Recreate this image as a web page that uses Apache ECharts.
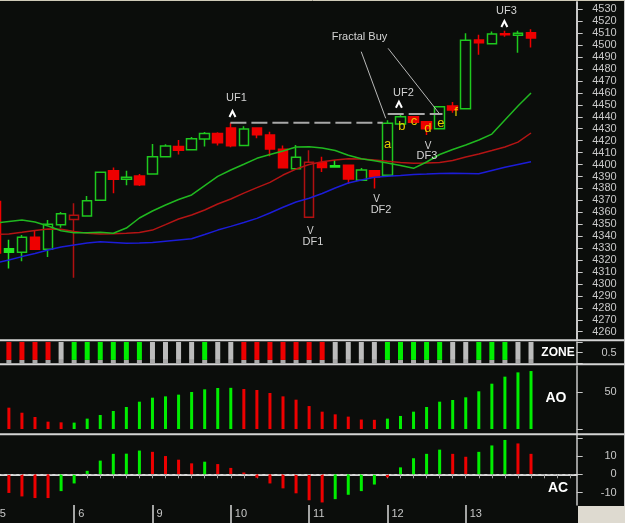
<!DOCTYPE html>
<html>
<head>
<meta charset="utf-8">
<script src="https://cdn.jsdelivr.net/npm/echarts@6/dist/echarts.min.js"></script>
<style>
html,body{margin:0;padding:0;background:#0b0d0b;}
#main{width:625px;height:523px;}
</style>
</head>
<body>
<div id="main"></div>
<script>
// bars 0..41 (bar 0 is cut off at the left edge)
var opens  = [4369,4329.5,4326.5,4339,4329,4349.6,4354,4356.9,4370,4394.8,4387.6,4390.4,4392,4406.5,4415.2,4412.4,4421.3,4426,4430.6,4416,4430.6,4424.7,4412.7,4396.5,4355.8,4401.5,4399,4399.3,4386.8,4394.8,4391,4434,4440,4435.8,4430,4449,4446.7,4504.3,4501.2,4509.5,4508.2,4510.4];
var closes = [4326,4326.5,4339,4329,4350,4358.8,4357.5,4369.7,4393.5,4387.6,4389.3,4383.1,4406.5,4415.5,4412,4421.6,4426,4418.3,4415.7,4429.7,4425,4413,4397.3,4406,4402,4397.5,4398,4387.9,4395.4,4389.5,4434.5,4440,4435.3,4430,4448.4,4445.6,4504,4502,4509.3,4508.7,4510,4506];
var highs  = [4372,4337,4341,4345,4353.5,4360.2,4367.5,4373.6,4394,4397.6,4394.8,4392,4417.2,4417,4420.5,4423,4427.2,4427,4435,4432,4430.6,4427.5,4416,4416.3,4412,4406.5,4403.8,4399.3,4397,4394.8,4437,4442,4440,4435.8,4448.4,4452.3,4509.9,4508.7,4511.5,4512,4512,4513.2];
var lows   = [4320,4313,4319,4329,4322.5,4347,4305.2,4356.9,4370,4375.9,4382.6,4382,4392,4406.5,4408.5,4412.4,4415,4416,4414.4,4416,4422,4407,4397.3,4396.5,4355.8,4393.7,4397.3,4384,4386.8,4380,4391,4434,4435.3,4424.7,4430,4443.4,4446.7,4492,4501.2,4506.9,4493.6,4498];

// alligator lines
var lips  = [4351.0,4352.3,4353.5,4351.8,4348.5,4344.6,4342.8,4342.8,4343.2,4342.4,4346.8,4355.2,4361.1,4366.1,4370.7,4374.5,4382.4,4390.1,4395.4,4400.2,4405.2,4408.4,4411.3,4414.7,4414.9,4413.8,4411.7,4407.8,4404.9,4403.1,4401.3,4399.1,4396.8,4402.1,4408.4,4412.6,4416.3,4420.5,4425.5,4437.3,4449.0,4459.9];
var teeth = [4341.4,4341.8,4343.2,4344.7,4346.0,4345.8,4343.9,4342.4,4341.8,4342.1,4342.5,4343.1,4345.1,4349.7,4354.4,4357.7,4361.9,4366.9,4371.1,4376.1,4380.7,4385.1,4391.2,4396.2,4400.0,4402.3,4403.8,4404.9,4404.6,4403.8,4402.7,4401.8,4401.0,4401.3,4401.7,4403.4,4406.3,4408.8,4411.7,4414.7,4418.8,4426.4];
var jaw   = [4317.5,4320.0,4322.9,4325.5,4328.4,4330.9,4332.6,4334.3,4335.3,4334.7,4334.0,4334.3,4334.8,4335.8,4336.8,4337.8,4341.4,4345.1,4348.2,4351.5,4354.9,4359.4,4364.2,4368.6,4371.7,4375.7,4380.3,4384.5,4387.0,4389.3,4390.2,4390.8,4391.6,4392.0,4392.5,4392.6,4392.5,4392.2,4395.0,4397.7,4400.0,4402.3];

// indicators, bars 1..41
var zoneStates = ['r','r','r','r','w','g','g','g','g','g','g','w','w','w','w','g','w','w','r','r','r','r','r','r','r','w','w','w','w','g','g','g','g','g','w','w','g','g','g','w','w'];
var aoValues = [28.8,22,16.2,9.9,9,8.6,14,18.9,24.3,29.7,36.9,42.3,44.1,46.4,50,53.6,55.4,55.6,54,52.7,48.6,44.1,39.6,31,23.4,19.8,16.7,12.8,12.4,14,17.6,23.4,29.7,36.9,39.2,42.8,50.9,61.2,70.7,76.5,78.3];
var aoStates = ['r','r','r','r','r','g','g','g','g','g','g','g','g','g','g','g','g','g','r','r','r','r','r','r','r','r','r','r','r','g','g','g','g','g','g','g','g','g','g','g','g'];
var acValues = [-10.2,-12.1,-13,-13,-9.2,-5,1.9,7.5,11.2,11.3,13,12.3,10,8,6,6.9,5.6,3.5,1,-1.9,-5,-7.7,-10.4,-14.2,-15.4,-13.6,-11.2,-9.2,-5.6,-1.7,3.8,8.8,11.2,13.5,11.2,9.6,12.3,15.8,18.8,16.9,11.2];
var acStates = ['r','r','r','r','g','g','g','g','g','g','g','r','r','r','r','g','r','r','r','r','r','r','r','r','r','g','g','g','g','r','g','g','g','g','r','r','g','g','g','r','r'];

// axis
var slotCount = 45;
var dayStarts = [0,6,12,18,24,30,36];
var dayNames = ['5','6','9','10','11','12','13'];
var priceTicks = [];
for (var p = 4260; p <= 4530; p += 10) priceTicks.push(p);

// annotations (bar position, price)
var fractalTexts = [
    {text:'UF1', bar:18.43, price:4455.7},
    {text:'UF2', bar:31.23, price:4460.3},
    {text:'UF3', bar:39.12, price:4528.6},
    {text:'DF1', bar:24.29, price:4334.8},
    {text:'DF2', bar:29.51, price:4361.9},
    {text:'DF3', bar:33.03, price:4407.5},
    {text:'Fractal Buy', bar:27.86, price:4507.2}
];
var upMarks = [[18.13,4442.3],[30.88,4450.1],[38.96,4517.7]];
var downMarks = [[24.09,4344.3],[29.16,4371.1],[33.12,4415.7]];
var letters = [['a',30.02,4417.2],['b',31.11,4432.2],['c',32.04,4435.8],['d',33.09,4430.3],['e',34.09,4434.2],['f',35.26,4443.5]];
var levelLines = [[17.97,29.64,4435],[30.02,34.22,4442.3]];
var pointerLines = [[27.99,4494.5,29.87,4438.7],[30.05,4497.3,33.96,4442.9]];

var FONT = '"Liberation Sans", Arial, sans-serif';
var C_GREEN = '#1ec81e', C_RED = '#ee0000', C_DRED = '#b01010', C_GFILL = '#22e622';
var stateColor = {r:'#ee0000', g:'#00ee00', w:'#bcbcbc'};

function $each(arr, fn){ for (var i = 0; i < arr.length; i++) fn(i, arr[i]); }

function candleData(){
    var out = [];
    for (var i = 0; i < opens.length; i++) {
        var prev = i > 0 ? closes[i-1] : Infinity;
        var rising = closes[i] >= prev;
        var hollow = closes[i] > opens[i];
        var stroke, fill;
        if (hollow) {
            stroke = rising ? C_GREEN : C_DRED;
            fill = 'transparent';
        } else {
            stroke = rising ? C_GFILL : C_RED;
            fill = stroke;
        }
        out.push({
            value: [opens[i], closes[i], lows[i], highs[i]],
            itemStyle: {color: fill, color0: fill, borderColor: stroke, borderColor0: stroke}
        });
    }
    return out;
}

function barData(values, states){
    var out = [null];
    $each(values, function(i, v){
        out.push({value: v, itemStyle: {color: stateColor[states[i]]}});
    });
    return out;
}

function dayIndex(idx){ return dayStarts.indexOf(idx); }

function chartFractals(id){
    var myChart = echarts.init(document.getElementById(id));
    var cats = [];
    for (var i = 0; i < slotCount; i++) cats.push(String(i));

    var zoneCap = [null], zoneTop = [null];
    $each(zoneStates, function(i, s){
        zoneCap.push({value: 0.16, itemStyle: {color: '#a8a8a8'}});
        zoneTop.push({value: 0.84, itemStyle: {color: stateColor[s]}});
    });

    var gl = -10.7, gr = 48.3;
    var hiddenX = function(g){
        return {type:'category', gridIndex:g, data:cats, boundaryGap:true, position:'bottom',
            axisLine:{show:false}, axisTick:{show:false}, axisLabel:{show:false}, splitLine:{show:false}};
    };
    var rightY = function(g, min, max, ticks, labels, lineW){
        return {
            type:'value', gridIndex:g, position:'right', min:min, max:max,
            splitLine:{show:false},
            axisLine:{show:true, lineStyle:{color:'#c8c8c8', width:lineW}},
            axisTick:{show:true, length:6, customValues:ticks, lineStyle:{color:'#c8c8c8'}},
            axisLabel:{show:true, customValues:labels, margin:40, align:'right',
                formatter:function(v){ return String(v); },
                color:'#c8c8c8', fontSize:11, fontFamily:FONT}
        };
    };

    var option = {
        backgroundColor: '#0b0d0b',
        animation: false,
        grid: [
            {left:gl, right:gr, top:2, height:337, outerBoundsMode:'none'},
            {left:gl, right:gr, top:342, height:21.3, outerBoundsMode:'none'},
            {left:gl, right:gr, top:366, height:68, outerBoundsMode:'none'},
            {left:gl, right:gr, top:434.3, height:70.7, outerBoundsMode:'none'}
        ],
        xAxis: [
            hiddenX(0), hiddenX(1), hiddenX(2),
            {
                type:'category', gridIndex:3, data:cats, boundaryGap:true, position:'bottom',
                axisLine:{show:true, lineStyle:{color:'#d8d8d8', width:2}},
                axisTick:{show:true, alignWithLabel:true, interval:0, length:4, lineStyle:{color:'#a0a0a0'}},
                axisLabel:{show:false}, splitLine:{show:false}
            },
            {
                type:'category', gridIndex:3, data:cats, boundaryGap:true, position:'bottom',
                axisLine:{show:false},
                axisTick:{show:true, alignWithLabel:true, length:18,
                    interval:function(idx){ return dayIndex(idx) >= 0; },
                    lineStyle:{color:'#d8d8d8', width:1.5}},
                axisLabel:{show:true, margin:3, align:'left', padding:[0,0,0,4],
                    interval:function(idx){ return dayIndex(idx) >= 0; },
                    formatter:function(v, idx){ var d = dayIndex(idx); return d >= 0 ? dayNames[d] : ''; },
                    color:'#c8c8c8', fontSize:11, fontFamily:FONT},
                splitLine:{show:false}
            }
        ],
        yAxis: [
            rightY(0, 4253.9, 4536.1, priceTicks, priceTicks, 2),
            rightY(1, 0, 1, [0,0.5,1], [0.5], 1.5),
            rightY(2, -6.76, 85.1, [0,50], [50], 1.5),
            rightY(3, -16.8, 21.9, [20,10,0,-10], [10,0,-10], 1.5)
        ],
        series: [
            {name:'jaw', type:'line', data:jaw, symbol:'none', xAxisIndex:0, yAxisIndex:0,
                lineStyle:{color:'#1c1cd8', width:1.5}},
            {name:'teeth', type:'line', data:teeth, symbol:'none', xAxisIndex:0, yAxisIndex:0,
                lineStyle:{color:'#b41414', width:1.5}},
            {name:'lips', type:'line', data:lips, symbol:'none', xAxisIndex:0, yAxisIndex:0,
                lineStyle:{color:'#20b820', width:1.5}},
            {name:'price', type:'candlestick', data:candleData(), xAxisIndex:0, yAxisIndex:0,
                barWidth:10, itemStyle:{borderWidth:1.5}},
            {name:'zoneCap', type:'bar', stack:'zone', data:zoneCap, xAxisIndex:1, yAxisIndex:1, barWidth:5},
            {name:'zone', type:'bar', stack:'zone', data:zoneTop, xAxisIndex:1, yAxisIndex:1, barWidth:5},
            {name:'AO', type:'bar', data:barData(aoValues, aoStates), xAxisIndex:2, yAxisIndex:2, barWidth:3},
            {name:'AC', type:'bar', data:barData(acValues, acStates), xAxisIndex:3, yAxisIndex:3, barWidth:3,
                markLine:{symbol:'none', silent:true, label:{show:false},
                    lineStyle:{color:'#b0b0b0', type:[3,3], width:1},
                    data:[{yAxis:0}]}}
        ]
    };
    myChart.setOption(option);

    function toPx(bar, price){
        var b0 = Math.floor(bar);
        var p0 = myChart.convertToPixel({gridIndex:0}, [b0, price]);
        var p1 = myChart.convertToPixel({gridIndex:0}, [b0 + 1, price]);
        return [p0[0] + (p1[0] - p0[0]) * (bar - b0), p0[1]];
    }

    var g = [];
    // frame
    var sepY = [340.2, 364.3, 434.3];
    $each(sepY, function(i, y){
        g.push({type:'line', z:50, shape:{x1:0, y1:y, x2:625, y2:y}, style:{stroke:'#d4d4d4', lineWidth:2}});
    });
    g.push({type:'line', z:50, shape:{x1:0, y1:0.5, x2:625, y2:0.5}, style:{stroke:'#cfcab8', lineWidth:1}});
    g.push({type:'line', z:50, shape:{x1:624.5, y1:0, x2:624.5, y2:506}, style:{stroke:'#c8c8c8', lineWidth:1}});
    g.push({type:'rect', z:50, shape:{x:578, y:506, width:47, height:17}, style:{fill:'#dedad0'}});
    // panel names
    g.push({type:'text', z:60, x:558, y:353, style:{text:'ZONE', fill:'#ffffff', font:'bold 12px ' + FONT, textAlign:'center', textVerticalAlign:'middle', align:'center', verticalAlign:'middle'}});
    g.push({type:'text', z:60, x:556, y:398, style:{text:'AO', fill:'#ffffff', font:'bold 14px ' + FONT, textAlign:'center', textVerticalAlign:'middle', align:'center', verticalAlign:'middle'}});
    g.push({type:'text', z:60, x:558, y:488.5, style:{text:'AC', fill:'#ffffff', font:'bold 14px ' + FONT, textAlign:'center', textVerticalAlign:'middle', align:'center', verticalAlign:'middle'}});

    // fractal levels
    $each(levelLines, function(i, l){
        var a = toPx(l[0], l[2]), b = toPx(l[1], l[2]);
        g.push({type:'line', z:40, shape:{x1:a[0], y1:a[1], x2:b[0], y2:b[1]},
            style:{stroke:'#a8a8a8', lineWidth:2, lineDash:[16,5]}});
    });
    $each(pointerLines, function(i, l){
        var a = toPx(l[0], l[1]), b = toPx(l[2], l[3]);
        g.push({type:'line', z:40, shape:{x1:a[0], y1:a[1], x2:b[0], y2:b[1]},
            style:{stroke:'#b8b8b8', lineWidth:1}});
    });
    $each(fractalTexts, function(i, t){
        var a = toPx(t.bar, t.price);
        g.push({type:'text', z:60, x:a[0], y:a[1], style:{text:t.text, fill:'#d4d4d4', font:'11px ' + FONT,
            textAlign:'center', textVerticalAlign:'middle', align:'center', verticalAlign:'middle'}});
    });
    $each(upMarks, function(i, m){
        var a = toPx(m[0], m[1]);
        g.push({type:'polyline', z:60, shape:{points:[[a[0]-3, a[1]+3],[a[0], a[1]-3],[a[0]+3, a[1]+3]]},
            style:{stroke:'#ffffff', lineWidth:2, fill:null}});
    });
    $each(downMarks, function(i, m){
        var a = toPx(m[0], m[1]);
        g.push({type:'text', z:60, x:a[0], y:a[1], style:{text:'V', fill:'#d4d4d4', font:'10px ' + FONT,
            textAlign:'center', textVerticalAlign:'middle', align:'center', verticalAlign:'middle'}});
    });
    $each(letters, function(i, m){
        var a = toPx(m[1], m[2]);
        g.push({type:'text', z:60, x:a[0], y:a[1], style:{text:m[0], fill:'#e2cc00', font:'13px ' + FONT,
            textAlign:'center', textVerticalAlign:'middle', align:'center', verticalAlign:'middle'}});
    });
    myChart.setOption({graphic: g});

    return myChart;
}

chartFractals('main');
</script>
</body>
</html>
